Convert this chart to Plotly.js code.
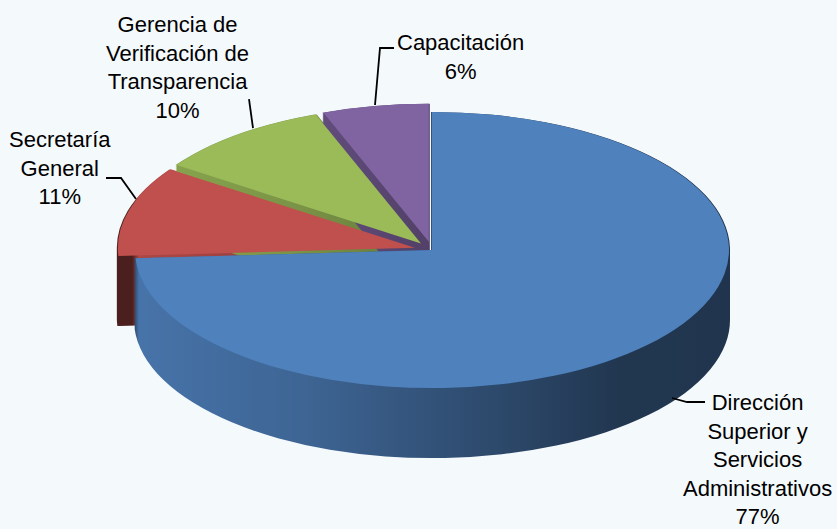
<!DOCTYPE html>
<html>
<head>
<meta charset="utf-8">
<script src="https://cdn.plot.ly/plotly-3.0.1.min.js"></script>
<style>
  html, body { margin: 0; padding: 0; background: #f4f9fc; }
  #chart { width: 837px; height: 529px; }
</style>
</head>
<body>
<div id="chart"></div>
<script>
// ---- data ----
const categories = [
  "Dirección<br>Superior y<br>Servicios<br>Administrativos",
  "Secretaría<br>General",
  "Gerencia de<br>Verificación de<br>Transparencia",
  "Capacitación"
];
const percentValues = [77, 11, 10, 6];

// ---- styles / layout (not data) ----
const sliceColors = ["#4f81bd", "#c0504d", "#9bbb59", "#8064a2"];
const slicePull = [0, 0.06, 0.06, 0.06];
const W = 837, H = 529;
// label text centres, page pixels
const labelPos = [
  { x: 757, y: 459 },
  { x: 60,  y: 168 },
  { x: 177, y: 67 },
  { x: 460, y: 57 }
];
// leader polylines, page pixels
const leaders = [
  [[672, 398], [687, 402], [705, 402]],
  [[136, 199], [121, 178], [106, 178]],
  [[253, 128], [249, 99]],
  [[375, 105], [380, 48], [394, 48]]
];
const ellipse = { cx: 432, cy: 250, rx: 297, ry: 138 };
const wallDepth = 70;
const fontFamily = "Liberation Sans Narrow, Arial Narrow, Liberation Sans, Arial, sans-serif";

const trace = {
  type: "pie",
  labels: categories,
  values: percentValues,
  sort: false,
  direction: "clockwise",
  rotation: 0,
  pull: slicePull,
  marker: { colors: sliceColors, line: { width: 0 } },
  textinfo: "none",
  textposition: "none",
  hoverinfo: "none",
  domain: { x: [0.1, 0.9], y: [0, 1] }
};

const annotations = categories.map((c, i) => ({
  xref: "paper", yref: "paper",
  x: labelPos[i].x / W, y: 1 - labelPos[i].y / H,
  xanchor: "center", yanchor: "middle",
  text: c + "<br>" + percentValues[i] + "%",
  showarrow: false,
  align: "center",
  font: { family: fontFamily, size: 22, color: "#000000" }
}));

const shapes = leaders.map(pts => ({
  type: "path",
  xref: "paper", yref: "paper",
  path: pts.map((p, k) => (k ? "L" : "M") + (p[0] / W).toFixed(5) + "," + (1 - p[1] / H).toFixed(5)).join(" "),
  line: { color: "#000000", width: 1.8 },
  layer: "above"
}));

const layout = {
  width: W,
  height: H,
  margin: { l: 0, r: 0, t: 0, b: 0 },
  paper_bgcolor: "#f4f9fc",
  plot_bgcolor: "#f4f9fc",
  showlegend: false,
  annotations: annotations,
  shapes: shapes
};

const gd = document.getElementById("chart");
Plotly.newPlot(gd, [trace], layout, { displayModeBar: false, staticPlot: true }).then(() => {
  const NS = "http://www.w3.org/2000/svg";
  const traceG = gd.querySelector(".pielayer .trace");
  const pieLayer = gd.querySelector(".pielayer");
  if (!traceG || !pieLayer) return;
  let cx, cy, r;
  const cd0 = gd.calcdata && gd.calcdata[0] && gd.calcdata[0][0];
  if (cd0 && isFinite(cd0.cx) && isFinite(cd0.r)) {
    cx = cd0.cx; cy = cd0.cy; r = cd0.r;
  } else {
    const bb = traceG.getBBox();
    cx = bb.x + bb.width / 2; cy = bb.y + bb.height / 2; r = Math.min(bb.width, bb.height) / 2;
  }
  const sx = ellipse.rx / r, sy = ellipse.ry / r;
  const tf = "translate(" + ellipse.cx + "," + ellipse.cy + ") scale(" + sx + "," + sy + ") translate(" + (-cx) + "," + (-cy) + ")";
  traceG.setAttribute("transform", tf);

  // side walls: vertical extrusion of each slice, shaded with a horizontal gradient
  const gradSvg = "<svg xmlns='http://www.w3.org/2000/svg' width='" + W + "' height='" + H + "'>" +
    "<defs><linearGradient id='g' x1='0' x2='1' y1='0' y2='0'>" +
    "<stop offset='0' stop-color='rgb(100,100,100)'/>" +
    "<stop offset='0.158' stop-color='rgb(100,100,100)'/>" +
    "<stop offset='0.166' stop-color='rgb(228,228,228)'/>" +
    "<stop offset='0.36' stop-color='rgb(200,200,200)'/>" +
    "<stop offset='0.55' stop-color='rgb(155,155,155)'/>" +
    "<stop offset='0.74' stop-color='rgb(108,108,108)'/>" +
    "<stop offset='1' stop-color='rgb(100,100,100)'/>" +
    "</linearGradient></defs><rect width='100%' height='100%' fill='url(#g)'/></svg>";
  const gradURI = "data:image/svg+xml;charset=utf-8," + encodeURIComponent(gradSvg);

  const svg = pieLayer.ownerSVGElement;
  const defs = document.createElementNS(NS, "defs");
  const filter = document.createElementNS(NS, "filter");
  filter.setAttribute("id", "extrude3d");
  filter.setAttribute("filterUnits", "userSpaceOnUse");
  filter.setAttribute("x", "0"); filter.setAttribute("y", "0");
  filter.setAttribute("width", W); filter.setAttribute("height", H);
  filter.setAttribute("color-interpolation-filters", "sRGB");
  const half = wallDepth / 2;
  filter.innerHTML =
    "<feMorphology in='SourceGraphic' operator='dilate' radius='1 " + half + "' result='dil'/>" +
    "<feOffset in='dil' dx='0' dy='" + half + "' result='off'/>" +
    "<feImage x='0' y='0' width='" + W + "' height='" + H + "' preserveAspectRatio='none' result='grad'/>" +
    "<feComposite in='off' in2='grad' operator='arithmetic' k1='1' k2='0' k3='0' k4='0'/>";
  const feImg = filter.querySelector("feImage");
  feImg.setAttribute("href", gradURI);
  feImg.setAttributeNS("http://www.w3.org/1999/xlink", "xlink:href", gradURI);
  defs.appendChild(filter);
  svg.insertBefore(defs, svg.firstChild);

  const slices = Array.from(traceG.querySelectorAll("g.slice"));
  const idx = s => (s.__data__ && isFinite(s.__data__.i)) ? s.__data__.i : slices.indexOf(s);
  // back slices first, the front (largest) slice last
  const ordered = slices.slice().sort((a, b) => (idx(a) === 0 ? 1 : 0) - (idx(b) === 0 ? 1 : 0));
  const wallsG = document.createElementNS(NS, "g");
  ordered.forEach(s => {
    const outer = document.createElementNS(NS, "g");
    outer.setAttribute("filter", "url(#extrude3d)");
    const inner = document.createElementNS(NS, "g");
    inner.setAttribute("transform", tf);
    inner.appendChild(s.cloneNode(true));
    outer.appendChild(inner);
    wallsG.appendChild(outer);
  });
  pieLayer.insertBefore(wallsG, pieLayer.firstChild);
});
</script>
</body>
</html>
